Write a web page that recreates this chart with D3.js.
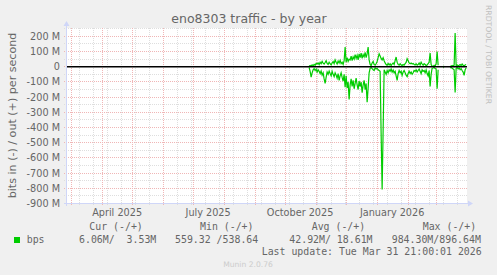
<!DOCTYPE html>
<html><head><meta charset="utf-8">
<script src="https://cdn.jsdelivr.net/npm/d3@7/dist/d3.min.js"></script>
<style>
html,body{margin:0;padding:0;background:#F0F0F0;}
svg{display:block;}
text{font-family:"DejaVu Sans",sans-serif;fill:#666666;}
.mono{font-family:"DejaVu Sans Mono",monospace;white-space:pre;}
</style></head>
<body><svg id="c" width="497" height="275"></svg>
<script>
// ---- data (M bits/s), one point per day from 2025-10-25 ----
const seriesStart = "2025-10-25";
const outVals = [3,8,5,12,6,15,10,22,18,25,
14,30,20,35,24,18,28,40,22,15,
30,20,12,25,35,20,45,30,18,38,
25,42,20,30,15,40,130,30,60,35,
50,45,70,40,65,50,80,55,75,45,
85,60,90,55,80,65,95,60,85,130,
45,15,8,25,35,15,10,20,35,60,
85,70,55,45,60,40,25,15,10,22,
12,20,8,18,25,15,40,64,30,15,
10,20,12,8,15,10,20,28,53,40,
25,20,25,18,22,15,12,20,10,15,
25,12,30,18,10,20,15,8,12,20,
30,90,15,5,3,10,5,20,100,10,
null,null,null,null,3,3,null,null,null,null,
null,5,3,8,5,10,222,8,12,5,
10,15,8,18,10,5,12,15];
const inVals = [5,30,68,40,20,12,25,15,35,20,
30,45,28,55,40,80,110,70,35,50,
28,45,60,30,50,65,40,55,75,45,
90,60,40,70,95,50,135,60,140,100,
215,120,80,130,90,145,110,75,120,150,
95,130,100,170,120,90,150,110,233,140,
40,10,5,12,20,25,8,15,10,20,
25,30,440,808,420,20,35,50,25,40,
20,30,15,35,22,40,30,60,90,45,
25,40,30,57,35,25,40,55,65,45,
30,45,35,50,40,25,30,20,35,25,
15,30,45,20,30,25,40,20,45,60,
25,130,50,10,8,5,12,15,145,20,
null,null,null,null,2,2,null,null,null,null,
null,8,5,10,15,20,170,12,5,15,
8,20,12,25,35,57,20,8];
const yTickValues = [200,100,0,-100,-200,-300,-400,-500,-600,-700,-800,-900];
const yTickLabels = ["200 M","100 M","0","-100 M","-200 M","-300 M","-400 M","-500 M","-600 M","-700 M","-800 M","-900 M"];
const xLabelDates = ["2025-04-01","2025-07-01","2025-10-01","2026-01-01"];
const xLabels = ["April 2025","July 2025","October 2025","January 2026"];
const legendHeads = ["Cur (-/+)","Min (-/+)","Avg (-/+)","Max (-/+)"];
const legendVals = ["6.06M/  3.53M","559.32 /538.64","42.92M/ 18.61M","984.30M/896.64M"];
const seriesName = "bps";
const lastUpdate = "Last update: Tue Mar 31 21:00:01 2026";

const svg = d3.select("#c");
const W=497,H=275;
const X0=67, X1=467, YT=28, YB=203.5;
const endT = new Date(Date.UTC(2026,2,31,21,0,1));
const startT = d3.utcDay.offset(endT,-400);
const x = d3.scaleUtc().domain([startT,endT]).range([X0,X1]);
const y = d3.scaleLinear().domain([-900,255]).range([YB,YT]);
const pd = s => { const [a,b,c]=s.split("-").map(Number); return new Date(Date.UTC(a,b-1,c)); };

svg.append("rect").attr("width",W).attr("height",H).attr("fill","#F0F0F0");
svg.append("rect").attr("x",X0).attr("y",YT).attr("width",X1-X0).attr("height",YB-YT).attr("fill","#FFFFFF");

const g = svg.append("g");
const r5 = v => Math.round(v-0.5)+0.5;
const MINC="#dedede", MAJC="#f0b6b6";
// minor vertical grid (biweekly)
const minorV = d3.utcDay.range(pd("2025-03-09"), endT, 14);
g.selectAll(".mv").data(minorV).join("line")
 .attr("x1",d=>r5(x(d))).attr("x2",d=>r5(x(d))).attr("y1",YT).attr("y2",YB+2.5)
 .attr("stroke",MINC).attr("stroke-dasharray","1,1");
// minor horizontal grid
const minorH = d3.range(-850,255,100);
g.selectAll(".mh").data(minorH).join("line")
 .attr("y1",d=>r5(y(d))).attr("y2",d=>r5(y(d))).attr("x1",X0-3).attr("x2",X1)
 .attr("stroke",MINC).attr("stroke-dasharray","1,1");
// major vertical grid (months)
const months = d3.utcMonth.range(d3.utcMonth.ceil(startT), endT);
g.selectAll(".Mv").data(months).join("line")
 .attr("x1",d=>r5(x(d))).attr("x2",d=>r5(x(d))).attr("y1",YT).attr("y2",YB+2.5)
 .attr("stroke",MAJC).attr("stroke-dasharray","1,1");
// major horizontal grid
g.selectAll(".Mh").data(yTickValues).join("line")
 .attr("y1",d=>r5(y(d))).attr("y2",d=>r5(y(d))).attr("x1",X0-3).attr("x2",X1)
 .attr("stroke",MAJC).attr("stroke-dasharray","1,1");

// data
const dates = outVals.map((_,i)=>d3.utcDay.offset(pd(seriesStart),i));
const line = d3.line().defined(d=>d[1]!=null).x(d=>x(d[0])).y(d=>y(d[1]));
svg.append("path").datum(dates.map((d,i)=>[d, inVals[i]==null?null:-inVals[i]]))
 .attr("d",line).attr("fill","none").attr("stroke","#00CC00").attr("stroke-width",1.2);
svg.append("path").datum(dates.map((d,i)=>[d, outVals[i]]))
 .attr("d",line).attr("fill","none").attr("stroke","#00CC00").attr("stroke-width",1.2);
// zero line
svg.append("line").attr("x1",X0).attr("x2",X1).attr("y1",y(0)).attr("y2",y(0))
 .attr("stroke","#000").attr("stroke-width",1.6);

// axes
const AX="#CFD6F8";
svg.append("line").attr("x1",X0-0.5).attr("x2",X0-0.5).attr("y1",YB+2.5).attr("y2",24).attr("stroke",AX);
svg.append("path").attr("d",`M${X0-3.5},26 L${X0+2.5},26 L${X0-0.5},21 Z`).attr("fill",AX);
svg.append("line").attr("x1",X0-3).attr("x2",X1+3).attr("y1",r5(YB)).attr("y2",r5(YB)).attr("stroke",AX);
svg.append("path").attr("d",`M${X1+1},${r5(YB)-3} L${X1+1},${r5(YB)+3} L${X1+6},${r5(YB)} Z`).attr("fill",AX);

// y tick labels
svg.selectAll(".yl").data(yTickValues).join("text")
 .attr("x",60).attr("y",d=>y(d)+3.5).attr("text-anchor","end").attr("font-size","9.7px")
 .text((d,i)=>yTickLabels[i]);
// x labels (rrdtool centres month labels half a month after the tick)
svg.selectAll(".xl").data(xLabelDates).join("text")
 .attr("x",d=>x(d3.utcDay.offset(pd(d),15))).attr("y",216).attr("text-anchor","middle").attr("font-size","9.7px")
 .text((d,i)=>xLabels[i]);

// title
svg.append("text").attr("x",249).attr("y",23).attr("text-anchor","middle").attr("font-size","12.5px").text("eno8303 traffic - by year");
// y axis label
svg.append("text").attr("transform","translate(15.5,115.5) rotate(-90)").attr("text-anchor","middle").attr("font-size","11.1px")
 .text("bits in (-) / out (+) per second");
// watermark side
svg.append("text").attr("transform","translate(485.5,5) rotate(90)").attr("font-size","7.7px").style("fill","#c0c0c0")
 .text("RRDTOOL / TOBI OETIKER");

// legend
const headX=[89.3,200,311.7,422.7], valX=[79,175,289.3,391.7];
svg.selectAll(".lh").data(legendHeads).join("text").attr("class","mono")
 .attr("x",(d,i)=>headX[i]).attr("y",230).attr("font-size","9.9px").text(d=>d);
svg.selectAll(".lv").data(legendVals).join("text").attr("class","mono")
 .attr("x",(d,i)=>valX[i]).attr("y",243).attr("font-size","9.9px").text(d=>d);
svg.append("rect").attr("x",14).attr("y",237).attr("width",6).attr("height",6).attr("fill","#00CC00");
svg.append("text").attr("class","mono").attr("x",26.7).attr("y",243).attr("font-size","9.9px").text(seriesName);
svg.append("text").attr("class","mono").attr("x",261.7).attr("y",255).attr("font-size","9.9px").text(lastUpdate);
svg.append("text").attr("x",248).attr("y",267).attr("text-anchor","middle").attr("font-size","7.6px").style("fill","#cccccc").text("Munin 2.0.76");
</script></body></html>
